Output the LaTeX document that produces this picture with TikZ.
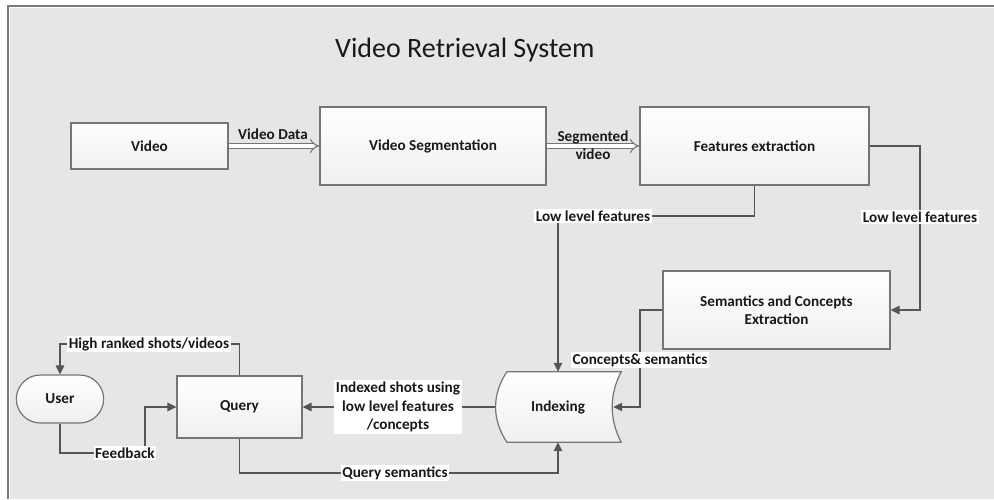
\documentclass[tikz,border=0pt]{standalone}
\usepackage{fontspec}
\setmainfont{Carlito}
\usetikzlibrary{arrows.meta,shapes.misc}
\definecolor{bgc}{HTML}{E6E6E6}
\definecolor{framec}{HTML}{7A7A7A}
\definecolor{linec}{HTML}{555555}
\definecolor{boxc}{HTML}{757575}
\newcommand{\bxfont}{\fontsize{15.2}{18}\selectfont\bfseries}
\tikzset{
  box/.style={draw=boxc, line width=1.2pt, top color=white, bottom color=black!6, minimum width=#1, font=\bxfont, align=center, inner sep=0pt, text=black!90},
  conn/.style={draw=linec, line width=1.5pt},
  tip/.style={-{Triangle[length=9pt,width=8.5pt]}},
  hollow/.style={draw=boxc, double=white, line width=1pt, double distance=4pt, -{Implies[length=5pt]}},
  lbl/.style={fill=white, font=\bxfont, inner sep=1.5pt, align=center, text=black!90},
}
\begin{document}
\begin{tikzpicture}[x=1pt,y=-1pt]
\useasboundingbox (0,0) rectangle (994,499);
\fill[white] (0,0) rectangle (994,499);
\fill[bgc] (10,8) rectangle (994,499);
\draw[framec, line width=2pt] (8,499) -- (8,6) -- (994,6);

\node[anchor=base west, font=\fontsize{28}{32}\selectfont, text=black!90, inner sep=0pt] (title) at (335,57) {Video Retrieval System};

% nodes
\node[box=157pt, minimum height=46pt] (video) at (149.5,146) {Video};
\node[box=226pt, minimum height=78pt] (seg) at (433,146) {Video Segmentation};
\node[box=229pt, minimum height=78pt] (feat) at (754.5,146) {Features extraction};
\node[box=227pt, minimum height=78pt] (sem) at (776.5,310) {Semantics and Concepts\\Extraction};
\node[box=125pt, minimum height=62pt] (query) at (239.5,407) {Query};
\node[draw=boxc, line width=1.2pt, top color=white, bottom color=black!6, rounded rectangle, minimum width=94pt, minimum height=48pt, font=\bxfont, text=black!90] (user) at (60,399) {User};

% indexing (stored data shape)
\node[minimum width=126pt, minimum height=70pt, inner sep=0pt] (idx) at (558,407) {};
\path[draw=boxc, line width=1.2pt, top color=white, bottom color=black!6]
  ([xshift=12pt]idx.north west) -- (idx.north east)
  .. controls ([xshift=-12pt,yshift=-23pt]idx.north east) and ([xshift=-12pt,yshift=23pt]idx.south east) .. (idx.south east)
  -- ([xshift=12pt]idx.south west)
  .. controls ([xshift=-3pt,yshift=23pt]idx.south west) and ([xshift=-3pt,yshift=-23pt]idx.north west) .. ([xshift=12pt]idx.north west) -- cycle;
\node[font=\bxfont, text=black!90] (idxtext) at (idx.center) {Indexing};
\coordinate (idxR) at ([xshift=-8pt]idx.east);
\coordinate (idxL) at (idx.west);

% connectors
\draw[hollow] (video.east) -- (seg.west);
\draw[hollow] (seg.east) -- (feat.west);

\coordinate (c1) at (754.5,216);
\draw[conn, tip] (feat.south) -- (c1) -| (idx.north);
\coordinate (c2) at (920,146);
\coordinate (c3) at (920,310);
\draw[conn, tip] (feat.east) -- (c2) -- (c3) -- (sem.east);
\coordinate (c4) at (640,310);
\coordinate (c5) at (640,407);
\draw[conn, tip] (sem.west) -- (c4) -- (c5) -- (idxR);
\draw[conn, tip] (idxL) -- (query.east);
\coordinate (c6) at (239.5,473);
\draw[conn, tip] (query.south) -- (c6) -| (idx.south);
\coordinate (c7) at (239.5,344);
\draw[conn, tip] (query.north) -- (c7) -| (user.north);
\coordinate (c8) at (60,453);
\coordinate (c9) at (145,453);
\draw[conn, tip] (user.south) -- (c8) -- (c9) |- (query.west);

% labels
\node[font=\bxfont, text=black!90] (l0) at (273,134) {Video Data};
\node[font=\fontsize{15.2}{18}\selectfont\bfseries, text=black!90, align=center] (l0b) at (593,145) {Segmented\\video};
\node[lbl] (l1) at (593,216) {Low level features};
\node[lbl] (l2) at (920,217) {Low level features};
\node[lbl] (l3) at (640,360) {Concepts\& semantics};
\node[lbl, font=\fontsize{15.2}{18.5}\selectfont\bfseries] (l4) at (398,407) {Indexed shots using\\low level features\\/concepts};
\node[lbl] (l5) at (395,473) {Query semantics};
\node[lbl] (l6) at (149,344) {High ranked shots/videos};
\node[lbl] (l7) at (125,453) {Feedback};
\end{tikzpicture}
\end{document}
